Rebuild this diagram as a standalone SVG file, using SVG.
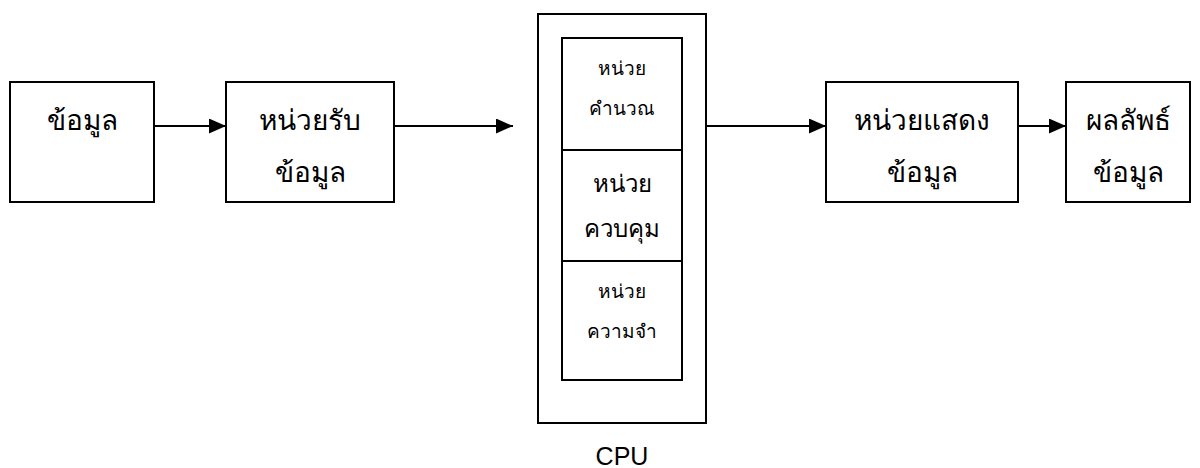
<svg xmlns="http://www.w3.org/2000/svg" width="1200" height="468" viewBox="0 0 1200 468">
<style>
.box{fill:#fff;stroke:#000;stroke-width:2}
.t{font-family:"Noto Sans","DejaVu Sans","Liberation Sans",sans-serif;fill:#000;text-anchor:middle;font-weight:300}
.big{font-size:28px}
.sm{font-size:19px}
.md{font-size:24px}
.cn{stroke:#000;stroke-width:2;fill:none}
</style>
<defs>
<marker id="ah" markerWidth="17" markerHeight="15" refX="17" refY="7.5" orient="auto" markerUnits="userSpaceOnUse">
<path d="M0,0 L17,7.5 L0,15 Z" fill="#000"/>
</marker>
</defs>
<g id="connectors">
<line class="cn" x1="154" y1="126" x2="226" y2="126" marker-end="url(#ah)"/>
<line class="cn" x1="394" y1="126" x2="513" y2="126" marker-end="url(#ah)"/>
<line class="cn" x1="706" y1="126" x2="826" y2="126" marker-end="url(#ah)"/>
<line class="cn" x1="1018" y1="126" x2="1066" y2="126" marker-end="url(#ah)"/>
</g>
<g id="data">
<rect class="box" x="10" y="82" width="144" height="120"/>
<text class="t big" x="82" y="130">ข้อมูล</text>
</g>
<g id="input">
<rect class="box" x="226" y="82" width="168" height="120"/>
<text class="t big" x="310" y="130">หน่วยรับ</text>
<text class="t big" x="310" y="182">ข้อมูล</text>
</g>
<g id="cpu">
<rect class="box" x="538" y="14" width="168" height="409"/>
<text x="622" y="465" font-family="Liberation Sans, Arial, sans-serif" font-size="25" text-anchor="middle">CPU</text>
</g>
<g id="alu">
<rect class="box" x="562" y="38" width="120" height="112"/>
<text class="t sm" x="622" y="75">หน่วย</text>
<text class="t sm" x="622" y="115">คำนวณ</text>
</g>
<g id="control">
<rect class="box" x="562" y="150" width="120" height="111"/>
<text class="t md" x="622" y="192">หน่วย</text>
<text class="t md" x="622" y="237">ควบคุม</text>
</g>
<g id="memory">
<rect class="box" x="562" y="261" width="120" height="119"/>
<text class="t sm" x="622" y="298">หน่วย</text>
<text class="t sm" x="622" y="338">ความจำ</text>
</g>
<g id="output">
<rect class="box" x="826" y="82" width="192" height="120"/>
<text class="t big" x="922" y="130">หน่วยแสดง</text>
<text class="t big" x="922" y="182">ข้อมูล</text>
</g>
<g id="result">
<rect class="box" x="1066" y="82" width="124" height="120"/>
<text class="t big" x="1128" y="130">ผลลัพธ์</text>
<text class="t big" x="1128" y="182">ข้อมูล</text>
</g>
</svg>
